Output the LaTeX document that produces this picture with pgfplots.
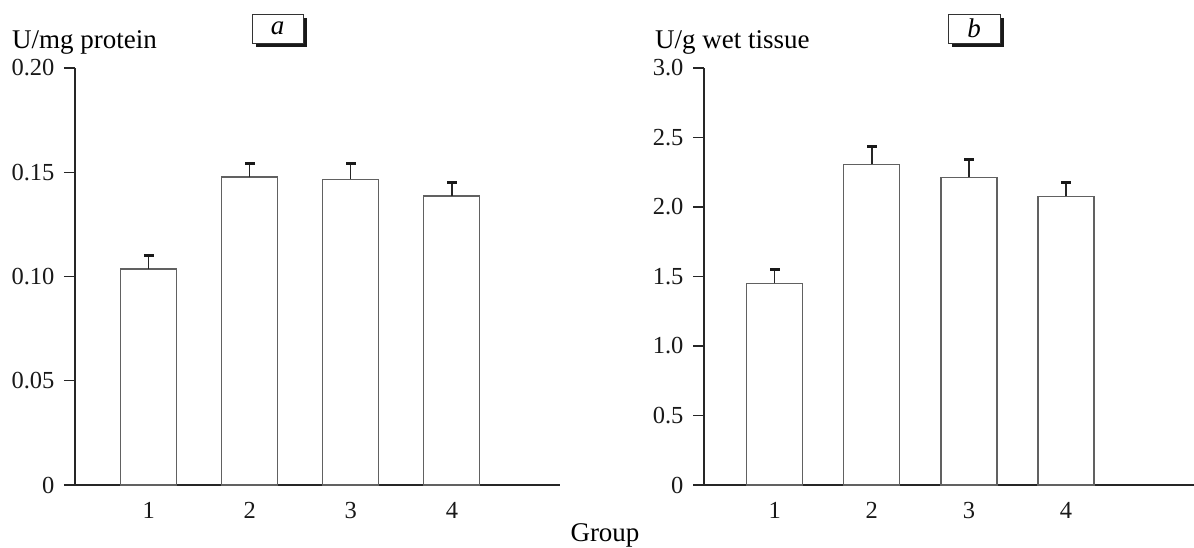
\documentclass[border=0pt]{standalone}
\usepackage{pgfplots}
\pgfplotsset{compat=1.18}
\usepackage{fontspec}
\setmainfont{Liberation Serif}
\pgfplotstableread{
x y e
1 0.1036 0.0066
2 0.1477 0.0067
3 0.1466 0.0074
4 0.1386 0.0064
}\tablea
\pgfplotstableread{
x y e
1 1.450 0.097
2 2.307 0.127
3 2.214 0.129
4 2.077 0.101
}\tableb
\definecolor{barline}{gray}{0.38}
\pgfplotsset{
  panel/.style={
    scale only axis,
    axis x line*=bottom,
    axis y line*=left,
    axis line style={line width=1.1bp, black!85},
    ymin=0,
    xtick={1,2,3,4},
    xticklabels={1,2,3,4},
    major x tick style={draw=none},
    ytick style={line width=1.1bp, black!85},
    tick align=outside,
    major tick length=11bp,
    ticklabel style={font=\fontsize{24.5bp}{26bp}\selectfont, text=black!90},
    xticklabel style={yshift=-3bp},
    yticklabel style={xshift=-6bp},
    xmin=0.27,
    ybar, bar width=56bp,
    clip=false,
  },
  barstyle/.style={fill=white, draw=barline, line width=1.2bp,
    error bars/.cd, y dir=plus, y explicit,
    error bar style={line width=1.3bp, black!85},
    error mark options={rotate=90, mark size=4.8bp, line width=3bp, black!90}},
}
\begin{document}
\begin{tikzpicture}
\useasboundingbox (0,0) rectangle (1194bp,548bp);
\begin{axis}[panel, at={(75bp,63bp)}, anchor=south west,
  width=485bp, height=417bp, xmax=5.07, ymax=0.20,
  ytick={0,0.05,0.10,0.15,0.20},
  yticklabels={0,0.05,0.10,0.15,0.20}]
\addplot[barstyle] table[x=x, y=y, y error=e] {\tablea};
\end{axis}
\begin{axis}[panel, at={(704bp,63bp)}, anchor=south west,
  width=490bp, height=417bp, xmax=5.32, ymax=3.0,
  ytick={0,0.5,1.0,1.5,2.0,2.5,3.0},
  yticklabels={0,0.5,1.0,1.5,2.0,2.5,3.0}]
\addplot[barstyle] table[x=x, y=y, y error=e] {\tableb};
\end{axis}
% axis titles
\node[anchor=base west, inner sep=0pt, font=\fontsize{27bp}{30bp}\selectfont] at (12bp,499bp) {U/mg protein};
\node[anchor=base west, inner sep=0pt, font=\fontsize{27bp}{30bp}\selectfont] at (655bp,499bp) {U/g wet tissue};
\node[anchor=base, inner sep=0pt, font=\fontsize{27bp}{30bp}\selectfont] at (605bp,7bp) {Group};
% panel boxes
\fill[black!90] (256bp,501bp) rectangle (307bp,530bp);
\filldraw[fill=white, draw=black!80, line width=0.8bp] (252bp,505bp) rectangle (303bp,534bp);
\node[font=\fontsize{27bp}{29bp}\selectfont\itshape] at (277.5bp,520bp) {a};
\fill[black!90] (952bp,501bp) rectangle (1004bp,530bp);
\filldraw[fill=white, draw=black!80, line width=0.8bp] (948bp,505bp) rectangle (1000bp,534bp);
\node[font=\fontsize{27bp}{29bp}\selectfont\itshape] at (974bp,520bp) {b};
\end{tikzpicture}
\end{document}
